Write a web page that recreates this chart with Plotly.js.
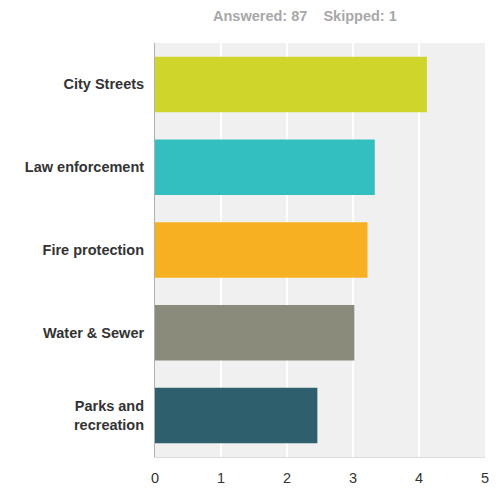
<!DOCTYPE html>
<html><head><meta charset="utf-8">
<script src="https://cdn.plot.ly/plotly-3.0.1.min.js"></script>
<style>html,body{margin:0;padding:0;background:#fff}#chart{width:504px;height:488px}</style>
</head><body><div id="chart"></div>
<script>
const categories = ["City Streets", "Law enforcement", "Fire protection", "Water & Sewer", "Parks and<br>recreation"];
const values = [4.12, 3.33, 3.22, 3.02, 2.46];
const colors = ["#cfd52a", "#33bfc0", "#f7b022", "#8a8b7a", "#2e5f6d"];
const xTicks = [0, 1, 2, 3, 4, 5];

const trace = {
  type: "bar", orientation: "h",
  y: categories, x: values,
  marker: {color: colors},
  hoverinfo: "none"
};
const layout = {
  width: 504, height: 488,
  margin: {l: 155, r: 19, t: 43, b: 31},
  paper_bgcolor: "#ffffff", plot_bgcolor: "#f0f0f0",
  font: {family: "Liberation Sans, Arial, sans-serif", color: "#333"},
  bargap: 0.33,
  showlegend: false,
  xaxis: {
    range: [0, 5], tickvals: xTicks, ticktext: xTicks.map(String),
    showgrid: true, gridcolor: "#ffffff", gridwidth: 2,
    zeroline: false, showline: true, linecolor: "#dcdcdc", linewidth: 1,
    ticks: "", ticklabelstandoff: 8,
    tickfont: {size: 14.5, color: "#333"}, fixedrange: true
  },
  yaxis: {
    autorange: "reversed", showgrid: false, zeroline: false,
    showline: true, linecolor: "#b0b0b0", linewidth: 1,
    ticks: "", ticklabelstandoff: 7,
    tickfont: {size: 14.5, color: "#333", weight: "bold"}, fixedrange: true
  },
  annotations: [{
    text: "Answered: 87&nbsp;&nbsp;&nbsp;&nbsp;Skipped: 1",
    xref: "paper", yref: "paper", x: (305 - 155) / 330, y: 1,
    xanchor: "center", yanchor: "bottom", yshift: 17, showarrow: false,
    font: {size: 14.5, color: "#a8a8a8", weight: "bold"}
  }]
};
Plotly.newPlot("chart", [trace], layout, {displayModeBar: false, staticPlot: true});
</script></body></html>
